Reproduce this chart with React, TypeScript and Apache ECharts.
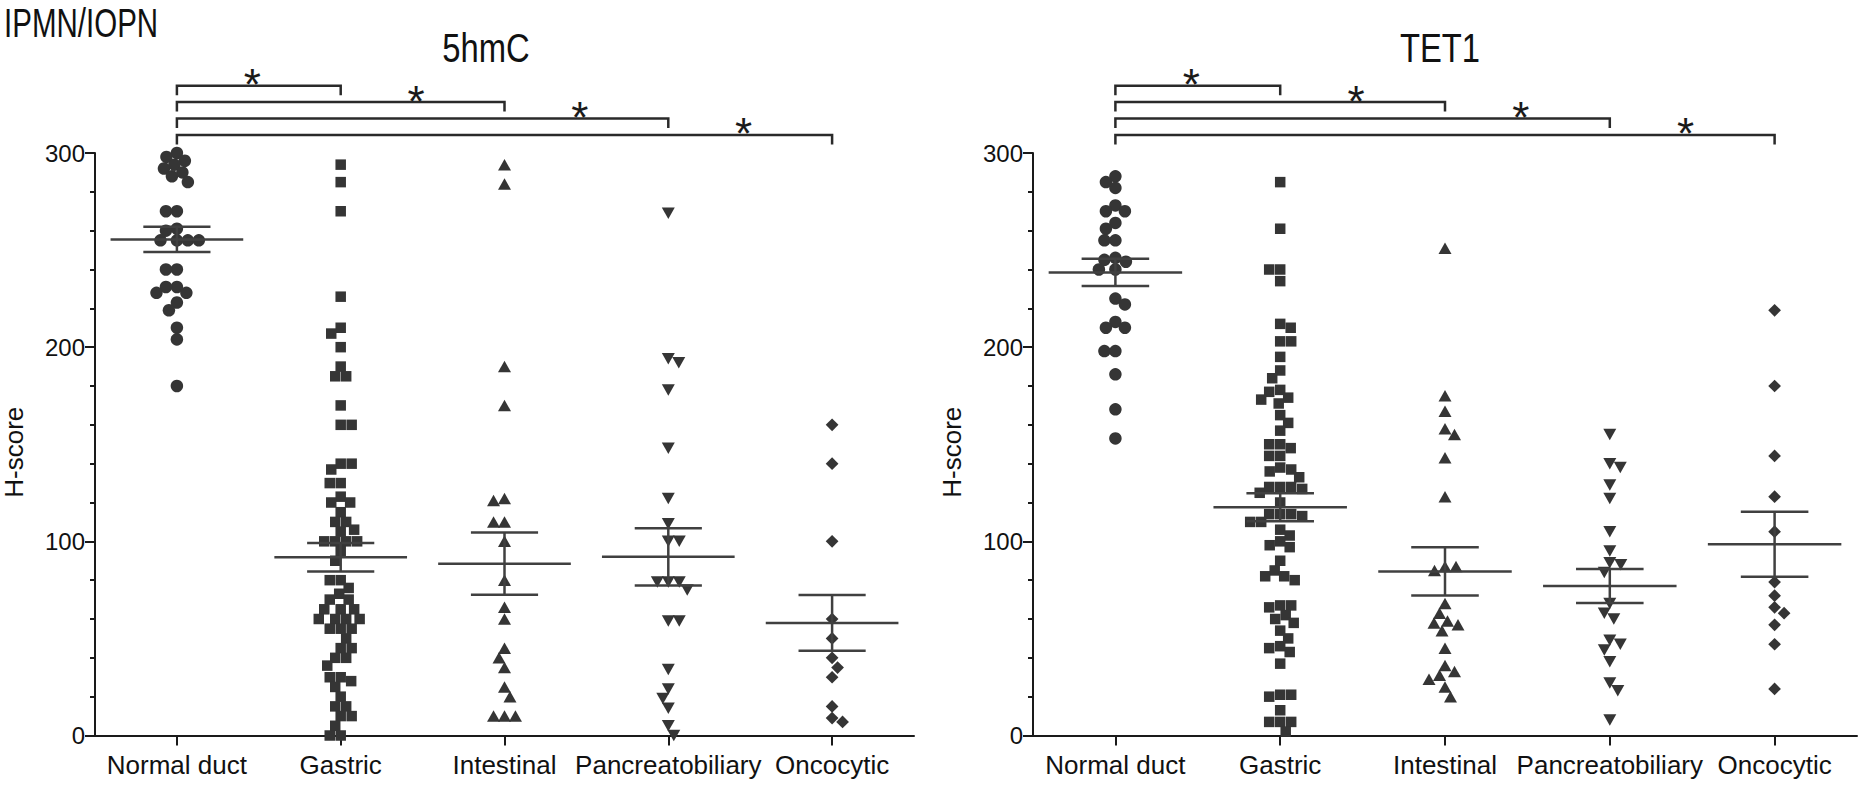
import React, { useEffect, useRef } from "react";
import * as echarts from "echarts";

// ---------- data ----------
const categories = ["Normal duct", "Gastric", "Intestinal", "Pancreatobiliary", "Oncocytic"];
const yTickValues = [0, 100, 200, 300];
const panelTitles = ["5hmC", "TET1"];
const figureTitle = "IPMN/IOPN";
const yAxisTitle = "H-score";
const significanceMarks = ["*", "*", "*", "*"];

// 5hmC H-scores
const normalDuct5hmC = [300, 298, 296, 294, 292, 290, 288, 285, 270, 270, 261, 260, 255, 255, 255, 255, 240, 240, 231, 231, 228, 228, 223, 219, 210, 204, 180];
const gastric5hmC = [294, 285, 270, 226, 210, 207, 200, 190, 185, 185, 170, 160, 160, 140, 140, 137, 130, 130, 123, 120, 120, 115, 110, 110, 106, 105, 100, 100, 100, 100, 95, 90, 80, 80, 76, 73, 70, 70, 65, 65, 65, 60, 60, 60, 60, 55, 55, 55, 50, 45, 45, 40, 40, 36, 30, 30, 28, 25, 20, 15, 15, 10, 10, 5, 0, 0];
const intestinal5hmC = [294, 284, 190, 170, 122, 121, 110, 110, 100, 80, 66, 60, 45, 40, 35, 25, 20, 10, 10, 10];
const pancreatobiliary5hmC = [269, 194, 192, 178, 148, 122, 109, 100, 100, 79, 79, 79, 75, 59, 59, 34, 24, 19, 14, 5, 0];
const oncocytic5hmC = [160, 140, 100, 60, 50, 40, 35, 30, 15, 9, 7];
const mean5hmC = [255.5, 91.8, 88.5, 92, 58];
const sem5hmC = [6.5, 7.3, 16, 14.8, 14.4];

// TET1 H-scores
const normalDuctTET1 = [288, 285, 282, 273, 270, 270, 264, 261, 255, 255, 246, 245, 244, 240, 240, 225, 222, 213, 210, 210, 198, 198, 186, 168, 153];
const gastricTET1 = [285, 261, 240, 240, 234, 212, 210, 203, 203, 195, 188, 184, 178, 177, 174, 173, 171, 165, 161, 157, 150, 150, 148, 144, 144, 138, 137, 136, 133, 128, 128, 128, 127, 125, 120, 114, 114, 114, 113, 110, 110, 106, 103, 100, 98, 97, 90, 85, 82, 82, 80, 67, 67, 66, 62, 60, 58, 54, 50, 46, 45, 43, 37, 21, 21, 20, 13, 7, 7, 7, 2];
const intestinalTET1 = [251, 175, 167, 158, 155, 143, 123, 87, 87, 85, 68, 63, 59, 58, 57, 54, 45, 36, 33, 31, 29, 25, 20];
const pancreatobiliaryTET1 = [155, 140, 138, 129, 122, 105, 95, 89, 88, 84, 68, 63, 60, 49, 47, 44, 38, 27, 23, 8];
const oncocyticTET1 = [219, 180, 144, 123, 105, 79, 72, 66, 63, 57, 47, 24];
const meanTET1 = [238.5, 117.5, 84.5, 77, 98.5];
const semTET1 = [7, 7.2, 12.4, 8.8, 16.8];

// ---------- layout / style ----------
const W = 1875;
const H = 790;
const FONT = "'Liberation Sans', Arial, Helvetica, sans-serif";
const INK = "#1a1a1a";
const MARK = "#353535";
const LINE = "#404040";
const GRIDS = [
  { left: 92, right: 961, top: 153, bottom: 54.5 },
  { left: 1033, right: 18, top: 153, bottom: 54.5 },
];
const TITLE_X = [486, 1440];
const Y_MAX = 300;
const MEAN_HALF = 0.405;
const CAP_HALF = 0.205;
const BRACKET_TOP_OFFSET = 67.3;
const BRACKET_STEP = 16.4;
const BRACKET_DROP = 9.5;

const symbolStyles = [
  { symbol: "circle", size: 12.5, rotate: 0 },
  { symbol: "rect", size: 10.5, rotate: 0 },
  { symbol: "triangle", size: [13, 11.5], rotate: 0 },
  { symbol: "triangle", size: [13, 11.5], rotate: 180 },
  { symbol: "rect", size: 9, rotate: 45 },
];

function swarmOffsets(values: number[], pxX: number, pxY: number, diam: number): number[] {
  const idx = values.map((_, i) => i).sort((a, b) => values[b] - values[a]);
  const placed: [number, number][] = [];
  const out = new Array(values.length).fill(0);
  let flip = 1;
  for (const i of idx) {
    const y = values[i] * pxY;
    let chosen = 0;
    for (let k = 0; k < 600; k++) {
      const mag = k * 0.5;
      const cands = k === 0 ? [0] : [flip * mag, -flip * mag];
      let found = false;
      for (const c of cands) {
        if (placed.every(([px, py]) => (px - c) * (px - c) + (py - y) * (py - y) >= diam * diam)) {
          chosen = c;
          found = true;
          break;
        }
      }
      if (found) break;
    }
    flip = -flip;
    placed.push([chosen, y]);
    out[i] = chosen / pxX;
  }
  return out;
}

function buildOption() {
  const panels = [
    { groups: [normalDuct5hmC, gastric5hmC, intestinal5hmC, pancreatobiliary5hmC, oncocytic5hmC], mean: mean5hmC, sem: sem5hmC },
    { groups: [normalDuctTET1, gastricTET1, intestinalTET1, pancreatobiliaryTET1, oncocyticTET1], mean: meanTET1, sem: semTET1 },
  ];

  const xAxis: any[] = [];
  const yAxis: any[] = [];
  const series: any[] = [];

  panels.forEach((panel, p) => {
    const g = GRIDS[p];
    const plotW = W - g.left - g.right;
    const plotH = H - g.top - g.bottom;
    const pxX = plotW / categories.length;
    const pxY = plotH / Y_MAX;

    xAxis.push({
      type: "category",
      gridIndex: p,
      data: categories,
      boundaryGap: true,
      axisLine: { show: true, onZero: false, lineStyle: { color: INK, width: 2 } },
      axisTick: { show: true, alignWithLabel: true, length: 10, lineStyle: { color: INK, width: 2 } },
      axisLabel: { fontSize: 26, color: "#111", margin: 16, fontFamily: FONT, interval: 0 },
      splitLine: { show: false },
    });
    xAxis.push({
      type: "value",
      gridIndex: p,
      min: -0.5,
      max: categories.length - 0.5,
      show: false,
      splitLine: { show: false },
    });
    yAxis.push({
      type: "value",
      gridIndex: p,
      min: yTickValues[0],
      max: yTickValues[yTickValues.length - 1],
      interval: 100,
      name: yAxisTitle,
      nameLocation: "middle",
      nameRotate: 90,
      nameGap: 68,
      nameTextStyle: { fontSize: 26, color: "#111", fontFamily: FONT, padding: [0, 16, 0, 0] },
      axisLine: { show: true, onZero: false, lineStyle: { color: INK, width: 2 } },
      axisTick: { show: true, length: 10, lineStyle: { color: INK, width: 2 } },
      minorTick: { show: true, splitNumber: 5, length: 5, lineStyle: { color: INK, width: 2 } },
      axisLabel: { fontSize: 24, color: "#111", margin: 10, fontFamily: FONT },
      splitLine: { show: false },
      minorSplitLine: { show: false },
    });

    const xIdx = p * 2 + 1;

    panel.groups.forEach((vals, i) => {
      const st = symbolStyles[i];
      const offs = swarmOffsets(vals, pxX, pxY, 11);
      series.push({
        type: "scatter",
        xAxisIndex: xIdx,
        yAxisIndex: p,
        symbol: st.symbol,
        symbolSize: st.size,
        symbolRotate: st.rotate,
        clip: false,
        silent: true,
        itemStyle: { color: MARK, opacity: 1 },
        z: 2,
        data: vals.map((v, j) => [i + offs[j], v]),
      });
    });

    // mean ± SEM
    series.push({
      type: "custom",
      xAxisIndex: xIdx,
      yAxisIndex: p,
      silent: true,
      clip: false,
      z: 5,
      data: panel.mean.map((m, i) => [i, m, panel.sem[i]]),
      renderItem: (params: any, api: any) => {
        const i = api.value(0);
        const m = api.value(1);
        const s = api.value(2);
        const a = api.coord([i - MEAN_HALF, m]);
        const b = api.coord([i + MEAN_HALF, m]);
        const t1 = api.coord([i - CAP_HALF, m + s]);
        const t2 = api.coord([i + CAP_HALF, m + s]);
        const b1 = api.coord([i - CAP_HALF, m - s]);
        const b2 = api.coord([i + CAP_HALF, m - s]);
        const c1 = api.coord([i, m + s]);
        const c2 = api.coord([i, m - s]);
        const style = { stroke: LINE, lineWidth: 2.5, fill: null };
        return {
          type: "group",
          children: [
            { type: "line", shape: { x1: a[0], y1: a[1], x2: b[0], y2: b[1] }, style },
            { type: "line", shape: { x1: t1[0], y1: t1[1], x2: t2[0], y2: t2[1] }, style },
            { type: "line", shape: { x1: b1[0], y1: b1[1], x2: b2[0], y2: b2[1] }, style },
            { type: "line", shape: { x1: c1[0], y1: c1[1], x2: c2[0], y2: c2[1] }, style },
          ],
        };
      },
    });

    // significance brackets (control vs each group)
    series.push({
      type: "custom",
      xAxisIndex: xIdx,
      yAxisIndex: p,
      silent: true,
      clip: false,
      z: 5,
      data: significanceMarks.map((mk, k) => [k + 1, 0, mk]),
      renderItem: (params: any, api: any) => {
        const k = api.value(0);
        const cs = params.coordSys;
        const x0 = api.coord([0, 0])[0];
        const x1 = api.coord([k, 0])[0];
        const xs = api.coord([k - 0.54, 0])[0];
        const y = cs.y - BRACKET_TOP_OFFSET + (k - 1) * BRACKET_STEP;
        const style = { stroke: "#2a2a2a", lineWidth: 2.5, fill: null };
        return {
          type: "group",
          children: [
            {
              type: "polyline",
              shape: { points: [[x0, y + BRACKET_DROP], [x0, y], [x1, y], [x1, y + BRACKET_DROP]] },
              style,
            },
            {
              type: "text",
              style: {
                text: significanceMarks[k - 1],
                x: xs,
                y: y - 1,
                align: "center",
                verticalAlign: "middle",
                fontSize: 44,
                fontFamily: FONT,
                fill: "#1a1a1a",
              },
            },
          ],
        };
      },
    });
  });

  const graphic = [
    {
      type: "text",
      x: 4,
      y: 23,
      scaleX: 0.72,
      style: { text: figureTitle, fontSize: 41, fontFamily: FONT, fill: "#111", align: "left", verticalAlign: "middle" },
    },
    {
      type: "text",
      x: TITLE_X[0],
      y: 48,
      scaleX: 0.82,
      style: { text: panelTitles[0], fontSize: 40, fontFamily: FONT, fill: "#111", align: "center", verticalAlign: "middle" },
    },
    {
      type: "text",
      x: TITLE_X[1],
      y: 48,
      scaleX: 0.82,
      style: { text: panelTitles[1], fontSize: 40, fontFamily: FONT, fill: "#111", align: "center", verticalAlign: "middle" },
    },
  ];

  return {
    animation: false,
    backgroundColor: "#ffffff",
    textStyle: { fontFamily: FONT },
    grid: GRIDS.map((g) => ({ ...g, containLabel: false })),
    xAxis,
    yAxis,
    series,
    graphic,
  };
}

export default function App() {
  const ref = useRef<HTMLDivElement>(null);
  useEffect(() => {
    if (!ref.current) return;
    const chart = echarts.init(ref.current, undefined, { renderer: "svg" });
    chart.setOption(buildOption() as any);
    return () => chart.dispose();
  }, []);
  return (
    <div
      ref={ref}
      style={{ position: "fixed", left: 0, top: 0, width: W, height: H, background: "#fff" }}
    />
  );
}
